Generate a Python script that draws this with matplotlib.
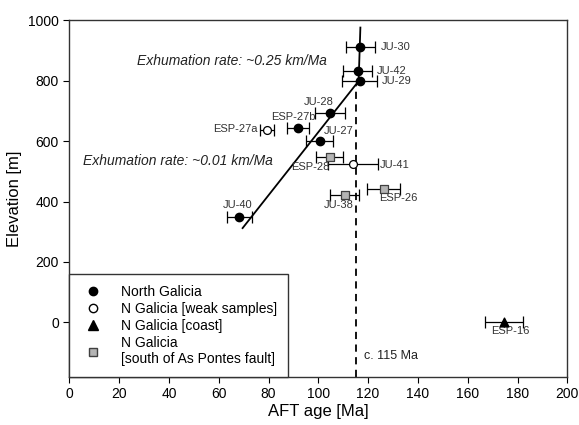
import matplotlib.pyplot as plt
from matplotlib.lines import Line2D

plt.rcParams['font.family'] = ['Liberation Sans', 'DejaVu Sans']

# North Galicia samples (filled circles)
ng_names = ['JU-30', 'JU-42', 'JU-29', 'JU-28', 'ESP-27b', 'JU-27', 'JU-40']
ng_age = [116.9, 115.8, 116.6, 104.8, 91.8, 100.5, 68.3]
ng_elev = [912, 833, 798, 693, 642, 602, 350]
ng_err = [5.9, 5.8, 7.0, 6.1, 4.4, 5.3, 5.0]

# weak samples (open circles)
weak_names = ['ESP-27a', 'JU-41']
weak_age = [79.4, 113.9]
weak_elev = [638, 525]
weak_err = [3.0, 10.0]

# coast (triangle)
coast_names = ['ESP-16']
coast_age = [174.7]
coast_elev = [2]
coast_err = [7.6]

# south of As Pontes fault (grey squares)
south_names = ['ESP-28', 'JU-38', 'ESP-26']
south_age = [104.5, 110.6, 126.2]
south_elev = [546, 423, 440]
south_err = [5.3, 5.8, 6.8]

# regression lines
fast_age = [116.2, 116.9]
fast_elev = [800, 976]
slow_age = [69.6, 116.3]
slow_elev = [312, 800]

fig = plt.figure(figsize=(5.79, 4.25), dpi=100)
ax = fig.add_axes([0.1197, 0.1137, 0.8601, 0.8385])

eb = dict(fmt='none', ecolor='black', elinewidth=0.9, capsize=4, capthick=0.9, zorder=2)
ax.errorbar(ng_age, ng_elev, xerr=ng_err, **eb)
ax.errorbar(weak_age, weak_elev, xerr=weak_err, **eb)
ax.errorbar(coast_age, coast_elev, xerr=coast_err, **eb)
ax.errorbar(south_age, south_elev, xerr=south_err, **eb)

ax.plot(fast_age, fast_elev, color='black', lw=1.3, zorder=3)
ax.plot(slow_age, slow_elev, color='black', lw=1.3, zorder=3)
ax.plot([115, 115], [-180, 790], color='black', lw=1.3, ls=(0, (4, 3)), zorder=1)

ax.scatter(ng_age, ng_elev, s=36, marker='o', c='black', zorder=4)
ax.scatter(weak_age, weak_elev, s=32, marker='o', facecolors='white', edgecolors='black', linewidths=0.9, zorder=4)
ax.scatter(coast_age, coast_elev, s=40, marker='^', c='black', zorder=4)
ax.scatter(south_age, south_elev, s=30, marker='s', facecolors='#b4b4b4', edgecolors='#404040', linewidths=0.9, zorder=4)

lab = dict(fontsize=8, color='#333333')
ax.text(125.0, 912, 'JU-30', va='center', ha='left', **lab)
ax.text(123.3, 833, 'JU-42', va='center', ha='left', **lab)
ax.text(125.6, 798, 'JU-29', va='center', ha='left', **lab)
ax.text(100.0, 730, 'JU-28', va='center', ha='center', **lab)
ax.text(89.8, 679, 'ESP-27b', va='center', ha='center', **lab)
ax.text(75.5, 641, 'ESP-27a', va='center', ha='right', **lab)
ax.text(108.0, 635, 'JU-27', va='center', ha='center', **lab)
ax.text(96.8, 513, 'ESP-28', va='center', ha='center', **lab)
ax.text(124.6, 521, 'JU-41', va='center', ha='left', **lab)
ax.text(108.2, 387, 'JU-38', va='center', ha='center', **lab)
ax.text(132.0, 410, 'ESP-26', va='center', ha='center', **lab)
ax.text(67.6, 387, 'JU-40', va='center', ha='center', **lab)
ax.text(177.0, -30, 'ESP-16', va='center', ha='center', **lab)

ax.text(27, 866, 'Exhumation rate: ~0.25 km/Ma', style='italic', fontsize=10, va='center', color='#222222')
ax.text(5.7, 535, 'Exhumation rate: ~0.01 km/Ma', style='italic', fontsize=10, va='center', color='#222222')
ax.text(118.5, -112, 'c. 115 Ma', fontsize=9, va='center', color='#222222')

ax.set_xlim(0, 200)
ax.set_ylim(-180, 1000)
ax.set_xticks(range(0, 201, 20))
ax.set_yticks(range(0, 1001, 200))
ax.tick_params(direction='out', length=4, labelsize=10, top=False, right=False)
ax.set_xlabel('AFT age [Ma]', fontsize=12, labelpad=2)
ax.set_ylabel('Elevation [m]', fontsize=12)
for s in ax.spines.values():
    s.set_color('#333333')
    s.set_linewidth(1.0)

handles = [
    Line2D([], [], ls='none', marker='o', ms=6, mfc='black', mec='black'),
    Line2D([], [], ls='none', marker='o', ms=6, mfc='white', mec='black'),
    Line2D([], [], ls='none', marker='^', ms=6.5, mfc='black', mec='black'),
    Line2D([], [], ls='none', marker='s', ms=5.5, mfc='#b4b4b4', mec='#404040'),
]
labels = ['North Galicia', 'N Galicia [weak samples]', 'N Galicia [coast]',
          'N Galicia\n[south of As Pontes fault]']
leg = ax.legend(handles, labels, loc='lower left', borderaxespad=0, fontsize=10,
                fancybox=False, edgecolor='#333333', framealpha=1,
                handletextpad=1.1, labelspacing=0.22, borderpad=0.75,
                handlelength=1.9)
leg.get_frame().set_linewidth(1.0)

fig.savefig('out.png', dpi=100)
